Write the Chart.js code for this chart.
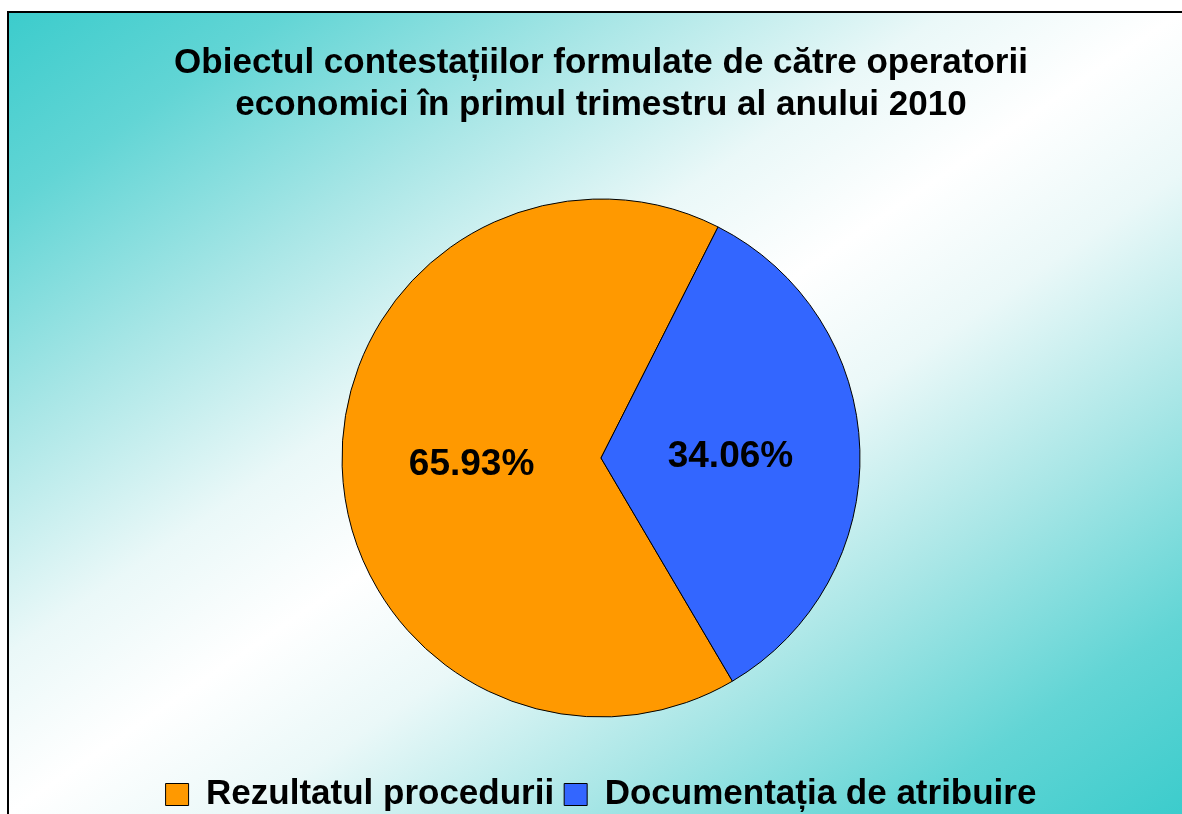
<!DOCTYPE html>
<html>
<head>
<meta charset="utf-8">
<script src="https://cdn.jsdelivr.net/npm/chart.js@4/dist/chart.umd.min.js"></script>
<style>
  html, body { margin: 0; padding: 0; overflow: hidden; background: #fff; }
  #wrap { width: 1182px; height: 814px; overflow: hidden; }
</style>
</head>
<body>
<div id="wrap"><canvas id="pieChart" width="1182" height="822"></canvas></div>
<script>
  const categories = ['Rezultatul procedurii', 'Documentația de atribuire'];
  const shares = [65.93, 34.06];
  const sliceColors = ['#FF9900', '#3366FF'];
  const titleLines = ['Obiectul contestațiilor formulate de către operatorii', 'economici în primul trimestru al anului 2010'];

  const fontFamily = '"Liberation Sans", Arial, sans-serif';

  // framed area with the teal/white diagonal fill, drawn under everything
  const frameBackground = {
    id: 'frameBackground',
    beforeDraw(chart) {
      const ctx = chart.ctx;
      const fx = 8, fy = 12, fw = 1174, fh = 802;
      ctx.save();
      ctx.fillStyle = '#ffffff';
      ctx.fillRect(0, 0, chart.width, chart.height);
      // gradient laid out in the unit square so the white band runs corner to corner
      ctx.save();
      ctx.translate(fx, fy);
      ctx.scale(fw, fh);
      const grad = ctx.createLinearGradient(0, 0, 1, 1);
      grad.addColorStop(0, 'rgb(60,204,204)');
      grad.addColorStop(0.12, 'rgb(98,213,213)');
      grad.addColorStop(0.26, 'rgb(168,230,230)');
      grad.addColorStop(0.4, 'rgb(234,248,248)');
      grad.addColorStop(0.5, '#ffffff');
      grad.addColorStop(0.6, 'rgb(234,248,248)');
      grad.addColorStop(0.74, 'rgb(168,230,230)');
      grad.addColorStop(0.88, 'rgb(98,213,213)');
      grad.addColorStop(1, 'rgb(60,204,204)');
      ctx.fillStyle = grad;
      ctx.fillRect(0, 0, 1.02, 1.03);
      ctx.restore();
      ctx.strokeStyle = '#000000';
      ctx.lineWidth = 2;
      ctx.strokeRect(fx, fy, chart.width + 10, chart.height + 10);
      ctx.restore();
    }
  };

  // percentage text in the middle of each slice
  const sliceLabels = {
    id: 'sliceLabels',
    afterDatasetsDraw(chart) {
      const ctx = chart.ctx;
      const meta = chart.getDatasetMeta(0);
      ctx.save();
      ctx.font = 'bold 37px ' + fontFamily;
      ctx.fillStyle = '#000000';
      ctx.textAlign = 'center';
      ctx.textBaseline = 'middle';
      meta.data.forEach((arc, i) => {
        const pos = arc.tooltipPosition();
        ctx.fillText(shares[i].toFixed(2) + '%', pos.x, pos.y + 3);
      });
      ctx.restore();
    }
  };

  new Chart(document.getElementById('pieChart'), {
    type: 'pie',
    data: {
      labels: categories,
      datasets: [{
        data: shares,
        backgroundColor: sliceColors,
        borderColor: '#000000',
        borderWidth: 1,
        radius: 259
      }]
    },
    options: {
      responsive: false,
      animation: false,
      rotation: 149.5,
      layout: { padding: { left: 20, right: 0, top: 0, bottom: 0 } },
      plugins: {
        tooltip: { enabled: false },
        title: {
          display: true,
          text: titleLines,
          color: '#000000',
          font: { family: fontFamily, size: 35, weight: 'bold', lineHeight: 1.2 },
          padding: { top: 42, bottom: 23 }
        },
        legend: {
          position: 'bottom',
          labels: {
            color: '#000000',
            font: { family: fontFamily, size: 35, weight: 'bold' },
            boxWidth: 23,
            boxHeight: 22,
            padding: 10
          }
        }
      }
    },
    plugins: [frameBackground, sliceLabels]
  });
</script>
</body>
</html>
